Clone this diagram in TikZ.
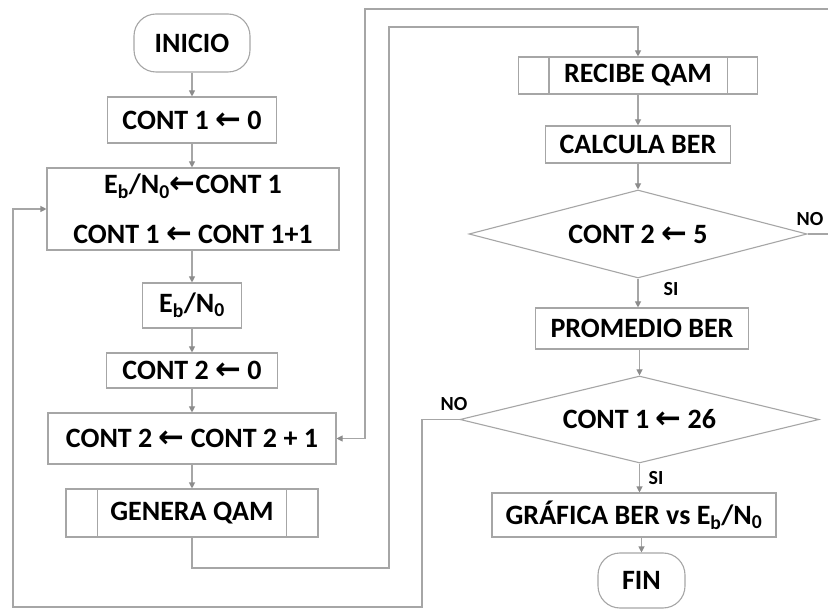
\documentclass[tikz,border=0pt]{standalone}
\usepackage{fontspec}
\setmainfont{Carlito}
\newfontfamily\arrowfont{DejaVu Sans}
\usetikzlibrary{shapes.geometric,arrows.meta}
\definecolor{linegray}{RGB}{166,166,166}
\definecolor{tipgray}{RGB}{140,140,140}
\newcommand{\lar}{{\arrowfont\bfseries\scalebox{1.1}{←}}}
\newcommand{\EbNo}{E\textsubscript{b}/N\textsubscript{0}}

\begin{document}
\begin{tikzpicture}[x=1pt,y=-1pt,
  proc/.style={draw=linegray,line width=1.1pt,inner sep=0pt,
    font=\bfseries\fontsize{28}{32}\selectfont},
  term/.style={proc,rounded corners=22pt},
  cond/.style={proc,diamond,aspect=3.8},
  lbl/.style={inner sep=0pt,font=\bfseries\fontsize{20}{22}\selectfont},
  flow/.style={draw=linegray,line width=1.1pt,
    -{Triangle[length=6pt,width=6pt,color=tipgray]}},
  wire/.style={draw=linegray,line width=1.1pt}]
\path[fill=white,use as bounding box] (0,0) rectangle (828,612);

%Left column
\node[term,minimum width=116pt,minimum height=58pt] (inicio) at (192,43) {INICIO};
\node[proc,minimum width=169pt,minimum height=46pt] (contuno) at (192,120) {CONT 1 \lar{} 0};
\node[proc,minimum width=292pt,minimum height=82pt,align=center,
  font=\bfseries\fontsize{28}{50}\selectfont] (ebset) at (193,209)
  {\EbNo\lar CONT 1\\CONT 1 \lar{} CONT 1+1};
\node[proc,minimum width=99pt,minimum height=45pt] (ebno) at (192,305.5) {\EbNo};
\node[proc,minimum width=171pt,minimum height=35pt] (contdos) at (192,370.5) {CONT 2 \lar{} 0};
\node[proc,minimum width=288pt,minimum height=51pt] (continc) at (192,438.5) {CONT 2 \lar{} CONT 2 + 1};
\node[proc,minimum width=252pt,minimum height=48pt] (genera) at (192,513) {GENERA QAM};
\draw[wire] ([xshift=32pt]genera.north west) -- ([xshift=32pt]genera.south west);
\draw[wire] ([xshift=-32pt]genera.north east) -- ([xshift=-32pt]genera.south east);

%Right column
\node[proc,minimum width=239pt,minimum height=37pt] (recibe) at (638,75.5) {RECIBE QAM};
\draw[wire] ([xshift=31pt]recibe.north west) -- ([xshift=31pt]recibe.south west);
\draw[wire] ([xshift=-31pt]recibe.north east) -- ([xshift=-31pt]recibe.south east);
\node[proc,minimum width=185pt,minimum height=37pt] (calcula) at (638,144.5) {CALCULA BER};
\node[cond,minimum width=338pt,minimum height=88pt] (dcinco) at (638,234) {CONT 2 \lar{} 5};
\node[proc,minimum width=213pt,minimum height=41pt] (promedio) at (642,328.5) {PROMEDIO BER};
\node[cond,minimum width=359pt,minimum height=87pt] (dveinte) at (639.5,419.5) {CONT 1 \lar{} 26};
\node[proc,minimum width=284pt,minimum height=44pt] (grafica) at (634,515) {GRÁFICA BER vs \EbNo};
\node[term,minimum width=87pt,minimum height=55pt] (fin) at (641.5,580.5) {FIN};

%Labels
\node[lbl] (nocinco) at (810,219) {NO};
\node[lbl] (sicinco) at (671,289) {SI};
\node[lbl] (noveinte) at (454,404) {NO};
\node[lbl] (siveinte) at (656,478) {SI};

%Straight arrows
\draw[flow] (inicio) -- (contuno);
\draw[flow] (contuno) -- (contuno |- ebset.north);
\draw[flow] (ebset) -- (ebset.south -| ebno) -- (ebno);
\draw[flow] (ebno) -- (contdos);
\draw[flow] (contdos) -- (continc);
\draw[flow] (continc) -- (genera);
\draw[flow] (recibe) -- (calcula);
\draw[flow] (calcula) -- (dcinco);
\draw[flow] (dcinco.south) -- (dcinco.south |- promedio.north);
\draw[flow] (promedio.south -| dveinte) -- (dveinte.north);
\draw[flow] (dveinte.south) -- (dveinte.south |- grafica.north);
\draw[flow] (grafica.south -| fin) -- (fin);

%Loops
\coordinate (gbajo) at (192,568);
\coordinate (gder) at (389,568);
\coordinate (garriba) at (389,27);
\draw[flow] (genera.south) -- (gbajo) -- (gder) -- (garriba) -| (recibe.north);
\coordinate (cfuera) at (840,234);
\coordinate (carriba) at (840,9);
\coordinate (cizq) at (365,9);
\draw[flow] (dcinco.east) -- (cfuera) -- (carriba) -- (cizq) |- (continc.east);
\coordinate (vder) at (422,419.5);
\coordinate (vbajo) at (422,607);
\coordinate (vizq) at (13,607);
\draw[flow] (dveinte.west) -- (vder) -- (vbajo) -- (vizq) |- (ebset.west);

\end{tikzpicture}
\end{document}
